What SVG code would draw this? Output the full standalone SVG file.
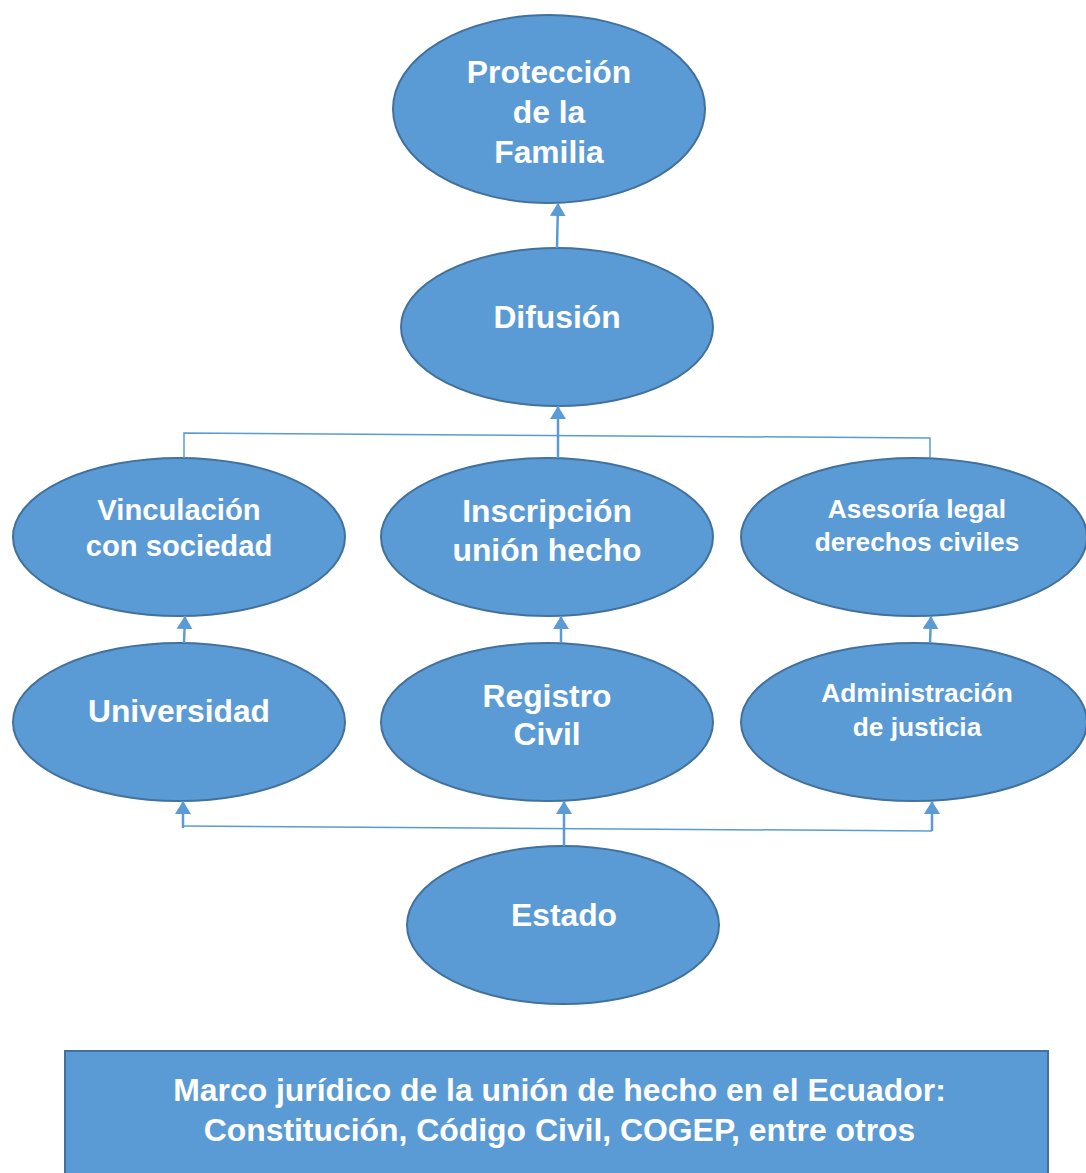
<svg xmlns="http://www.w3.org/2000/svg" width="1086" height="1173" viewBox="0 0 1086 1173">
<style>
.n{fill:#5B9BD5;stroke:#41719C;stroke-width:2}
.t{font-family:"Liberation Sans",Arial,sans-serif;font-weight:bold;fill:#FFFFFF;text-anchor:middle}
.c{stroke:#5B9BD5;stroke-width:2.5;fill:none}
.h{stroke:#5B9BD5;stroke-width:1.5;fill:none}
</style>
<defs>
<marker id="ah" markerUnits="userSpaceOnUse" markerWidth="13" markerHeight="16" viewBox="0 0 13 16" refX="13" refY="8" orient="auto">
<path d="M0,0 L13,8 L0,16 Z" fill="#5B9BD5"/>
</marker>
</defs>
<rect width="1086" height="1173" fill="#FFFFFF"/>
<g id="n-proteccion">
<ellipse class="n" cx="549" cy="109" rx="156" ry="94"/>
<text class="t" font-size="31.8" x="549" y="83">Protección</text>
<text class="t" font-size="31.8" x="549" y="123">de la</text>
<text class="t" font-size="31.8" x="549" y="163">Familia</text>
</g>
<g id="n-difusion">
<ellipse class="n" cx="557" cy="327" rx="156" ry="79"/>
<text class="t" font-size="31.8" x="557" y="328">Difusión</text>
</g>
<g id="n-vinculacion">
<ellipse class="n" cx="179" cy="537" rx="166" ry="79"/>
<text class="t" font-size="29.2" x="179" y="520">Vinculación</text>
<text class="t" font-size="29.2" x="179" y="556">con sociedad</text>
</g>
<g id="n-inscripcion">
<ellipse class="n" cx="547" cy="537" rx="166" ry="79"/>
<text class="t" font-size="31.8" x="547" y="522">Inscripción</text>
<text class="t" font-size="31.8" x="547" y="561">unión hecho</text>
</g>
<g id="n-asesoria">
<ellipse class="n" cx="914" cy="537" rx="173" ry="79"/>
<text class="t" font-size="26.3" x="917" y="518">Asesoría legal</text>
<text class="t" font-size="26.3" x="917" y="551">derechos civiles</text>
</g>
<g id="n-universidad">
<ellipse class="n" cx="179" cy="722" rx="166" ry="79"/>
<text class="t" font-size="31.8" x="179" y="722">Universidad</text>
</g>
<g id="n-registro">
<ellipse class="n" cx="547" cy="722" rx="166" ry="79"/>
<text class="t" font-size="31.8" x="547" y="707">Registro</text>
<text class="t" font-size="31.8" x="547" y="745">Civil</text>
</g>
<g id="n-administracion">
<ellipse class="n" cx="914" cy="722" rx="173" ry="79"/>
<text class="t" font-size="26.3" x="917" y="702">Administración</text>
<text class="t" font-size="26.3" x="917" y="736">de justicia</text>
</g>
<g id="n-estado">
<ellipse class="n" cx="563" cy="925" rx="156" ry="79"/>
<text class="t" font-size="31.8" x="564" y="926">Estado</text>
</g>
<g id="n-marco">
<rect x="65" y="1051" width="983" height="130" fill="#5B9BD5" stroke="#41719C" stroke-width="2"/>
<text class="t" font-size="31.9" x="559.5" y="1101">Marco jurídico de la unión de hecho en el Ecuador:</text>
<text class="t" font-size="31.9" x="559.5" y="1141">Constitución, Código Civil, COGEP, entre otros</text>
</g>
<g id="connectors">
<line class="c" x1="557" y1="248" x2="558" y2="203" marker-end="url(#ah)"/>
<line class="c" x1="558" y1="458" x2="558" y2="406" marker-end="url(#ah)"/>
<polyline class="h" points="184,458 184,433 930,438 930,458"/>
<line class="c" x1="184" y1="643" x2="185" y2="616" marker-end="url(#ah)"/>
<line class="c" x1="561" y1="643" x2="561" y2="616" marker-end="url(#ah)"/>
<line class="c" x1="930" y1="643" x2="931" y2="616" marker-end="url(#ah)"/>
<line class="c" x1="564" y1="846" x2="564" y2="801" marker-end="url(#ah)"/>
<polyline class="h" points="183,826 932,831"/>
<line class="c" x1="183" y1="828" x2="183" y2="801" marker-end="url(#ah)"/>
<line class="c" x1="932" y1="831" x2="932" y2="801" marker-end="url(#ah)"/>
</g>
</svg>
